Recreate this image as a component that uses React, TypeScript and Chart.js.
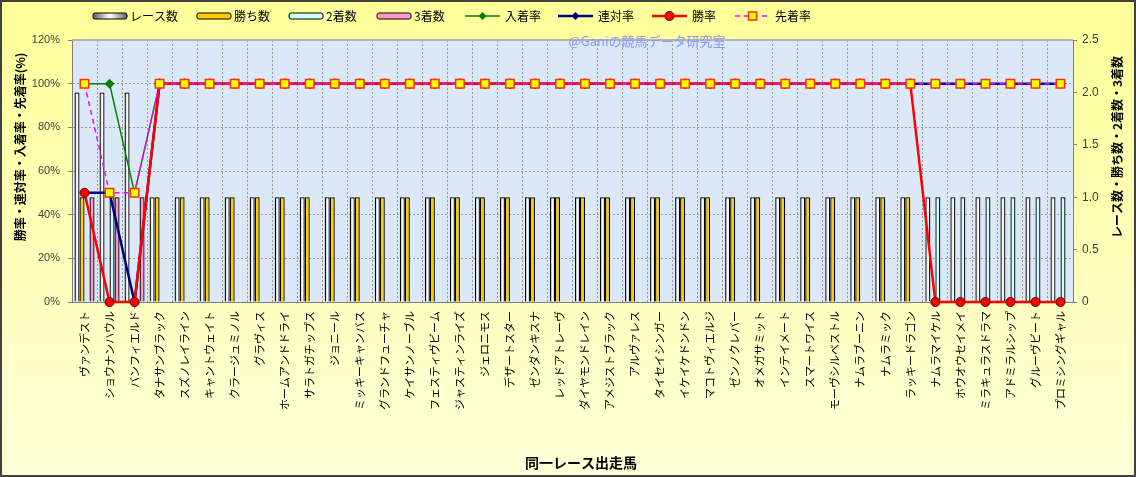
import React, { useEffect, useRef } from "react";
import { Chart, registerables } from "chart.js";
Chart.register(...registerables);

const horseNames = [
  "ヴァンデスト", "ショウナンハウル", "バンフィエルド", "タナサンブラック", "スズノレイライン",
  "キャントウェイト", "クラージュミノル", "グラヴィス", "ホームアンドドライ", "サラトガチップス",
  "ジョニール", "ミッキーキャンバス", "グランドフューチャ", "ケイサンノーブル", "フェスティヴビーム",
  "ジャスティンライズ", "ジェロニモス", "デザートスター", "ゼンダンキスナ", "レッドアトレーヴ",
  "ダイヤモンドレイン", "アメジストブラック", "アルヴァレス", "タイセイシンガー", "イケイケドンドン",
  "マコトヴィエルジ", "ゼンノクレバー", "オメガサミット", "インテイメート", "スマートワイス",
  "モーヴシルベストル", "ナムラブーニン", "ナムラミック", "ラッキードラゴン", "ナムラマイケル",
  "ホウオウセイメイ", "ミラキュラスドラマ", "アドミラルシップ", "グルーヴビート", "プロミシングギャル",
];

const raceCounts = [
  2, 2, 2, 1, 1, 1, 1, 1, 1, 1,
  1, 1, 1, 1, 1, 1, 1, 1, 1, 1,
  1, 1, 1, 1, 1, 1, 1, 1, 1, 1,
  1, 1, 1, 1, 1, 1, 1, 1, 1, 1,
];
const winCounts = [
  1, 0, 0, 1, 1, 1, 1, 1, 1, 1,
  1, 1, 1, 1, 1, 1, 1, 1, 1, 1,
  1, 1, 1, 1, 1, 1, 1, 1, 1, 1,
  1, 1, 1, 1, 0, 0, 0, 0, 0, 0,
];
const secondCounts = [
  0, 1, 0, 0, 0, 0, 0, 0, 0, 0,
  0, 0, 0, 0, 0, 0, 0, 0, 0, 0,
  0, 0, 0, 0, 0, 0, 0, 0, 0, 0,
  0, 0, 0, 0, 1, 1, 1, 1, 1, 1,
];
const thirdCounts = [
  1, 1, 1, 0, 0, 0, 0, 0, 0, 0,
  0, 0, 0, 0, 0, 0, 0, 0, 0, 0,
  0, 0, 0, 0, 0, 0, 0, 0, 0, 0,
  0, 0, 0, 0, 0, 0, 0, 0, 0, 0,
];
const placeRate = [
  100, 100, 50, 100, 100, 100, 100, 100, 100, 100,
  100, 100, 100, 100, 100, 100, 100, 100, 100, 100,
  100, 100, 100, 100, 100, 100, 100, 100, 100, 100,
  100, 100, 100, 100, 100, 100, 100, 100, 100, 100,
];
const rentaiRate = [
  50, 50, 0, 100, 100, 100, 100, 100, 100, 100,
  100, 100, 100, 100, 100, 100, 100, 100, 100, 100,
  100, 100, 100, 100, 100, 100, 100, 100, 100, 100,
  100, 100, 100, 100, 100, 100, 100, 100, 100, 100,
];
const winRate = [
  50, 0, 0, 100, 100, 100, 100, 100, 100, 100,
  100, 100, 100, 100, 100, 100, 100, 100, 100, 100,
  100, 100, 100, 100, 100, 100, 100, 100, 100, 100,
  100, 100, 100, 100, 0, 0, 0, 0, 0, 0,
];
const aheadRate = [
  100, 50, 50, 100, 100, 100, 100, 100, 100, 100,
  100, 100, 100, 100, 100, 100, 100, 100, 100, 100,
  100, 100, 100, 100, 100, 100, 100, 100, 100, 100,
  100, 100, 100, 100, 100, 100, 100, 100, 100, 100,
];
const leftTicks = [0, 20, 40, 60, 80, 100, 120];
const rightTicks = [0, 0.5, 1, 1.5, 2, 2.5];

const JP = '"Noto Sans CJK JP", "Noto Sans", sans-serif';
const NUM = '"Liberation Sans", Arial, sans-serif';
const CAT_PCT = 0.8;

function drawDiamond(ctx: CanvasRenderingContext2D, x: number, y: number, r: number, color: string) {
  ctx.beginPath();
  ctx.moveTo(x, y - r);
  ctx.lineTo(x + r, y);
  ctx.lineTo(x, y + r);
  ctx.lineTo(x - r, y);
  ctx.closePath();
  ctx.fillStyle = color;
  ctx.fill();
}

export default function App() {
  const ref = useRef<HTMLCanvasElement>(null);

  useEffect(() => {
    document.body.style.margin = "0";
    const canvas = ref.current;
    if (!canvas) return;

    const decor = {
      id: "decor",
      beforeDraw(chart: any) {
        const { ctx, width, height, chartArea: ca } = chart;
        ctx.save();
        const g = ctx.createLinearGradient(0, 0, 0, height);
        g.addColorStop(0, "#FFFF99");
        g.addColorStop(1, "#FFFFD8");
        ctx.fillStyle = g;
        ctx.fillRect(0, 0, width, height);
        ctx.fillStyle = "#DAE8F8";
        ctx.fillRect(ca.left, ca.top, ca.right - ca.left, ca.bottom - ca.top);
        ctx.restore();
      },
      beforeDatasetsDraw(chart: any) {
        const { ctx, chartArea: ca } = chart;
        ctx.save();
        ctx.strokeStyle = "#B4B4B4";
        ctx.lineWidth = 2;
        ctx.beginPath();
        ctx.moveTo(ca.left, ca.top);
        ctx.lineTo(ca.right, ca.top);
        ctx.stroke();
        ctx.font = `13px ${JP}`;
        ctx.fillStyle = "#8A96F2";
        ctx.textAlign = "center";
        ctx.textBaseline = "middle";
        ctx.fillText("@Ganiの競馬データ研究室", 647, 41);
        ctx.restore();
      },
      afterDraw(chart: any) {
        const { ctx, width, height } = chart;
        ctx.save();
        // titles
        ctx.fillStyle = "#000";
        ctx.textAlign = "center";
        ctx.textBaseline = "middle";
        ctx.font = `bold 12px ${JP}`;
        ctx.save();
        ctx.translate(20, 147);
        ctx.rotate(-Math.PI / 2);
        ctx.fillText("勝率・連対率・入着率・先着率(%)", 0, 0);
        ctx.restore();
        ctx.save();
        ctx.translate(1117, 147);
        ctx.rotate(-Math.PI / 2);
        ctx.fillText("レース数・勝ち数・2着数・3着数", 0, 0);
        ctx.restore();
        ctx.font = `bold 14px ${JP}`;
        ctx.fillText("同一レース出走馬", 581, 463);

        // legend
        const ly = 16;
        ctx.textAlign = "left";
        ctx.font = `12px ${JP}`;
        const boxes: [number, string, any][] = [
          [93, "レース数", null],
          [197, "勝ち数", "#FFCC00"],
          [289, "2着数", "#CCFFFF"],
          [377, "3着数", "#FF99CC"],
        ];
        boxes.forEach(([x, text, fill]) => {
          let f = fill;
          if (!f) {
            const lg = ctx.createLinearGradient(x, 0, x + 34, 0);
            lg.addColorStop(0, "#606060");
            lg.addColorStop(0.5, "#FFFFFF");
            lg.addColorStop(1, "#606060");
            f = lg;
          }
          ctx.beginPath();
          if (ctx.roundRect) ctx.roundRect(x, ly - 3, 34, 6, 2);
          else ctx.rect(x, ly - 3, 34, 6);
          ctx.fillStyle = f;
          ctx.fill();
          ctx.strokeStyle = "#000";
          ctx.lineWidth = 1;
          ctx.stroke();
          ctx.fillStyle = "#000";
          ctx.fillText(text, x + 37, ly);
        });
        const lines: [number, string, string, number, string, number[]][] = [
          [465, "入着率", "#008000", 1.5, "diamond", []],
          [558, "連対率", "#000080", 2.5, "diamond", []],
          [652, "勝率", "#FF0000", 2.5, "circle", []],
          [735, "先着率", "#FF00FF", 1.5, "square", [5, 4]],
        ];
        lines.forEach(([x, text, color, lw, marker, dash]) => {
          ctx.save();
          ctx.strokeStyle = color;
          ctx.lineWidth = lw;
          ctx.setLineDash(dash);
          ctx.beginPath();
          ctx.moveTo(x, ly);
          ctx.lineTo(x + 35, ly);
          ctx.stroke();
          ctx.setLineDash([]);
          const cx = x + 17.5;
          if (marker === "diamond") drawDiamond(ctx, cx, ly, 4, color);
          else if (marker === "circle") {
            ctx.beginPath();
            ctx.arc(cx, ly, 4.5, 0, Math.PI * 2);
            ctx.fillStyle = "#FF0000";
            ctx.fill();
            ctx.strokeStyle = "#600000";
            ctx.lineWidth = 1;
            ctx.stroke();
          } else {
            ctx.fillStyle = "#FFFF00";
            ctx.fillRect(cx - 4, ly - 4, 8, 8);
            ctx.strokeStyle = "#FF3300";
            ctx.lineWidth = 1.5;
            ctx.strokeRect(cx - 4, ly - 4, 8, 8);
          }
          ctx.restore();
          ctx.fillStyle = "#000";
          ctx.fillText(text, x + 40, ly);
        });

        // outer frame
        ctx.strokeStyle = "#404040";
        ctx.lineWidth = 2;
        ctx.strokeRect(1, 1, width - 2, height - 2);
        ctx.restore();
      },
    };

    const raceFill = (c: any) => {
      const chart = c.chart;
      const ca = chart.chartArea;
      const xs = chart.scales.x;
      if (!ca || !xs || c.dataIndex === undefined) return "#FFFFFF";
      const catW = (ca.right - ca.left) / horseNames.length;
      const bw = (catW * CAT_PCT) / 4;
      const center = xs.getPixelForValue(c.dataIndex);
      const left = center - 2 * bw;
      const g = chart.ctx.createLinearGradient(left, 0, left + bw, 0);
      g.addColorStop(0, "#A0A0A0");
      g.addColorStop(0.5, "#FFFFFF");
      g.addColorStop(1, "#E8E8E8");
      return g;
    };

    const barCommon = {
      type: "bar" as const,
      yAxisID: "y1",
      borderColor: "#000000",
      borderWidth: 1.3,
      categoryPercentage: CAT_PCT,
      barPercentage: 1.0,
    };

    const chart = new Chart(canvas, {
      type: "bar",
      data: {
        labels: horseNames,
        datasets: [
          { ...barCommon, label: "レース数", data: raceCounts, backgroundColor: raceFill, order: 10 },
          { ...barCommon, label: "勝ち数", data: winCounts, backgroundColor: "#FFCC00", order: 11 },
          { ...barCommon, label: "2着数", data: secondCounts, backgroundColor: "#CCFFFF", order: 12 },
          { ...barCommon, label: "3着数", data: thirdCounts, backgroundColor: "#FF99CC", order: 13 },
          {
            type: "line", label: "入着率", data: placeRate, yAxisID: "y", order: 4,
            borderColor: "#008000", backgroundColor: "#008000", borderWidth: 1.5,
            pointStyle: "rectRot", pointRadius: 5, pointBorderWidth: 0, fill: false, tension: 0, clip: false,
          } as any,
          {
            type: "line", label: "連対率", data: rentaiRate, yAxisID: "y", order: 3,
            borderColor: "#000080", backgroundColor: "#000080", borderWidth: 2.5,
            pointStyle: "rectRot", pointRadius: 5, pointBorderWidth: 0, fill: false, tension: 0, clip: false,
          } as any,
          {
            type: "line", label: "勝率", data: winRate, yAxisID: "y", order: 2,
            borderColor: "#FF0000", backgroundColor: "#FF0000", borderWidth: 2.5,
            pointStyle: "circle", pointRadius: 4.5, pointBorderWidth: 1, pointBorderColor: "#600000",
            fill: false, tension: 0, clip: false,
          } as any,
          {
            type: "line", label: "先着率", data: aheadRate, yAxisID: "y", order: 1,
            borderColor: "#FF00FF", backgroundColor: "#FFFF00", borderWidth: 1.5, borderDash: [5, 4],
            pointStyle: "rect", pointRadius: 6, pointBorderWidth: 1.5, pointBorderColor: "#FF3300",
            fill: false, tension: 0, clip: false,
          } as any,
        ],
      },
      options: {
        responsive: false,
        animation: false,
        events: [],
        layout: { padding: { top: 40, left: 0, right: 0, bottom: 0 } },
        plugins: { legend: { display: false }, tooltip: { enabled: false } },
        scales: {
          x: {
            type: "category",
            grid: { display: true, color: "#9A9A9A", lineWidth: 1, drawTicks: false, offset: true },
            border: { display: true, color: "#808080", width: 1, dash: [2, 2] },
            ticks: {
              autoSkip: false, minRotation: 90, maxRotation: 90, padding: 9,
              color: "#000000", font: { family: JP, size: 11 },
            },
            afterFit: (s: any) => { s.height = 175; },
          },
          y: {
            position: "left",
            min: 0, max: 120,
            afterBuildTicks: (s: any) => { s.ticks = leftTicks.map((v) => ({ value: v })); },
            ticks: {
              padding: 8, color: "#404040", font: { family: NUM, size: 11 },
              callback: (v: any) => `${v}%`,
            },
            grid: { color: "#9A9A9A", lineWidth: 1, drawTicks: true, tickLength: 4, tickColor: "#808080", tickBorderDash: [] },
            border: { display: true, color: "#808080", width: 1, dash: [2, 2] },
            afterFit: (s: any) => { s.width = 72; },
          },
          y1: {
            position: "right",
            min: 0, max: 2.5,
            afterBuildTicks: (s: any) => { s.ticks = rightTicks.map((v) => ({ value: v })); },
            ticks: { padding: 5, color: "#404040", font: { family: NUM, size: 12 } },
            grid: { drawOnChartArea: false, drawTicks: true, tickLength: 4, tickColor: "#808080", color: "#808080" },
            border: { display: true, color: "#808080", width: 1 },
            afterFit: (s: any) => { s.width = 63; },
          },
        },
      },
      plugins: [decor],
    } as any);

    return () => chart.destroy();
  }, []);

  return (
    <div style={{ width: 1136, height: 477, position: "relative" }}>
      <canvas ref={ref} width={1136} height={477} style={{ display: "block", width: 1136, height: 477 }} />
    </div>
  );
}
